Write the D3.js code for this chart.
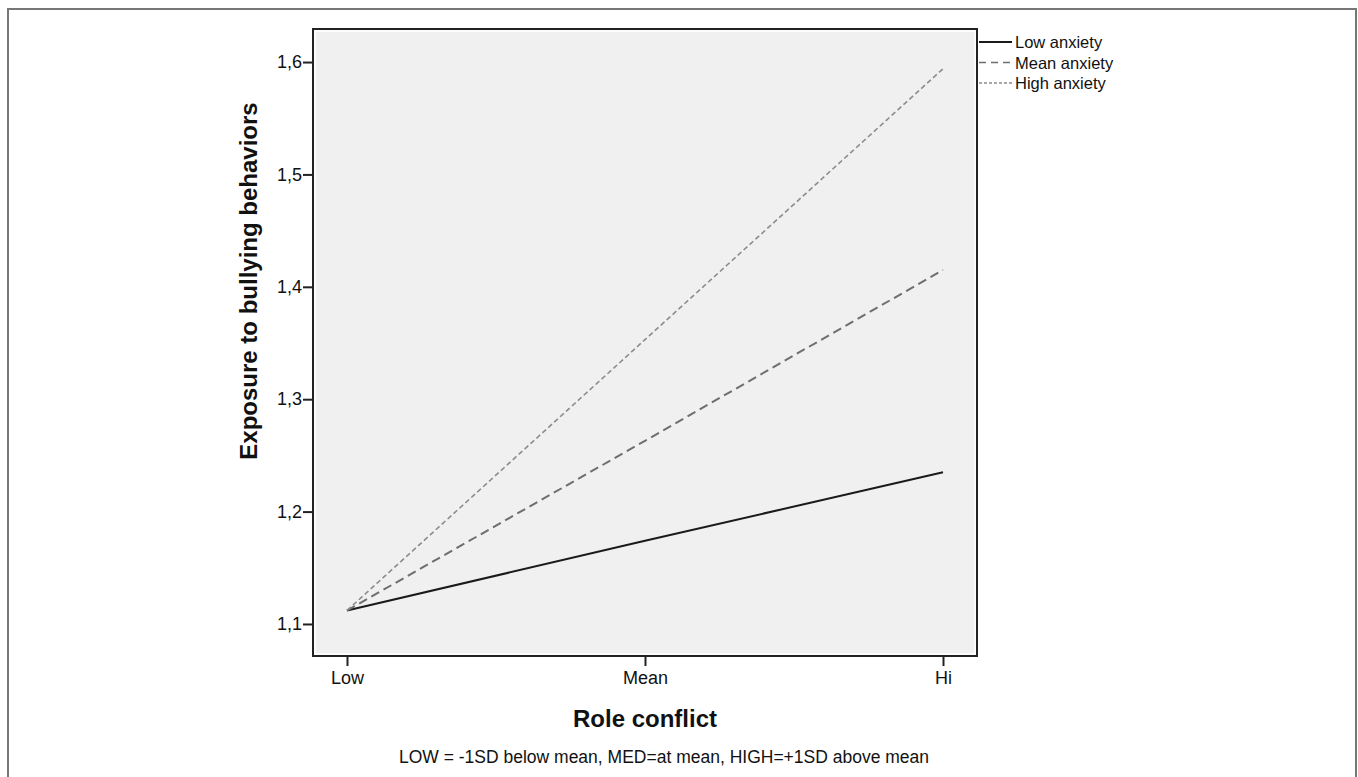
<!DOCTYPE html>
<html><head><meta charset="utf-8">
<script src="https://cdn.jsdelivr.net/npm/d3@7"></script>
<style>html,body{margin:0;padding:0;background:#fff;}svg{display:block;font-family:"Liberation Sans",Arial,sans-serif;}</style>
</head><body><svg id="c" width="1358" height="777"></svg>
<script>
const categories = ["Low", "Mean", "Hi"];
const yTicks = [1.1, 1.2, 1.3, 1.4, 1.5, 1.6];
const seriesNames = ["Low anxiety", "Mean anxiety", "High anxiety"];
const lowAnxiety = [1.112, 1.174, 1.235];
const meanAnxiety = [1.112, 1.263, 1.415];
const highAnxiety = [1.112, 1.353, 1.594];
const caption = "LOW = -1SD below mean, MED=at mean, HIGH=+1SD above mean";

const svg = d3.select("#c");
const L = 313, R = 977, T = 29, B = 656;

// outer frame
svg.append("rect").attr("x", 8).attr("y", 9).attr("width", 1348).attr("height", 780)
  .attr("fill", "none").attr("stroke", "#777").attr("stroke-width", 2);

const x = d3.scalePoint().domain(categories).range([347, 943]);
const y = d3.scaleLinear().domain([1.0715, 1.6294]).range([B, T]);

svg.append("rect").attr("x", L).attr("y", T).attr("width", R - L).attr("height", B - T)
  .attr("fill", "#f0f0f0");
svg.append("rect").attr("x", L + 2).attr("y", T + 2).attr("width", R - L - 4).attr("height", B - T - 4)
  .attr("fill", "none").attr("stroke", "#fff").attr("stroke-width", 1.5);
svg.append("rect").attr("x", L).attr("y", T).attr("width", R - L).attr("height", B - T)
  .attr("fill", "none").attr("stroke", "#222").attr("stroke-width", 2);

const yAxis = svg.append("g").attr("transform", `translate(${L},0)`)
  .call(d3.axisLeft(y).tickValues(yTicks).tickSize(10).tickFormat(d => d3.format(".1f")(d).replace(".", ",")));
const xAxis = svg.append("g").attr("transform", `translate(0,${B})`)
  .call(d3.axisBottom(x).tickSize(10));
[yAxis, xAxis].forEach(a => {
  a.select(".domain").remove();
  a.selectAll(".tick line").attr("stroke", "#222").attr("stroke-width", 2);
  a.selectAll(".tick text").attr("font-size", 18).attr("fill", "#111")
    .attr("font-family", "'Liberation Sans',Arial,sans-serif");
});
yAxis.selectAll(".tick text").attr("x", -11);
xAxis.selectAll(".tick text").attr("y", 15);

const styles = [
  {data: lowAnxiety, stroke: "#1a1a1a", width: 2, dash: null},
  {data: meanAnxiety, stroke: "#6e6e6e", width: 2, dash: "9,5"},
  {data: highAnxiety, stroke: "#8c8c8c", width: 1.6, dash: "5,3"}
];
const line = d3.line().x((d, i) => x(categories[i])).y(d => y(d));
styles.forEach(s => {
  svg.append("path").datum(s.data).attr("d", line).attr("fill", "none")
    .attr("stroke", s.stroke).attr("stroke-width", s.width)
    .attr("stroke-dasharray", s.dash);
});

// legend
const lg = svg.append("g");
seriesNames.forEach((n, i) => {
  const yy = 42 + i * 20.5;
  lg.append("line").attr("x1", 979).attr("x2", 1012).attr("y1", yy).attr("y2", yy)
    .attr("stroke", styles[i].stroke).attr("stroke-width", i === 0 ? 2 : 1.5)
    .attr("stroke-dasharray", i === 0 ? null : (i === 1 ? "7,5" : "3,2"));
  lg.append("text").attr("x", 1015).attr("y", yy + 6).attr("font-size", 16.5).attr("fill", "#111").text(n);
});

svg.append("text").attr("transform", "translate(257,281) rotate(-90)").attr("text-anchor", "middle")
  .attr("font-size", 24).attr("font-weight", "bold").attr("fill", "#111").text("Exposure to bullying behaviors");
svg.append("text").attr("x", 645).attr("y", 727).attr("text-anchor", "middle")
  .attr("font-size", 24).attr("font-weight", "bold").attr("fill", "#111").text("Role conflict");
svg.append("text").attr("x", 664).attr("y", 763).attr("text-anchor", "middle")
  .attr("font-size", 17.5).attr("fill", "#111").text(caption);
</script></body></html>
